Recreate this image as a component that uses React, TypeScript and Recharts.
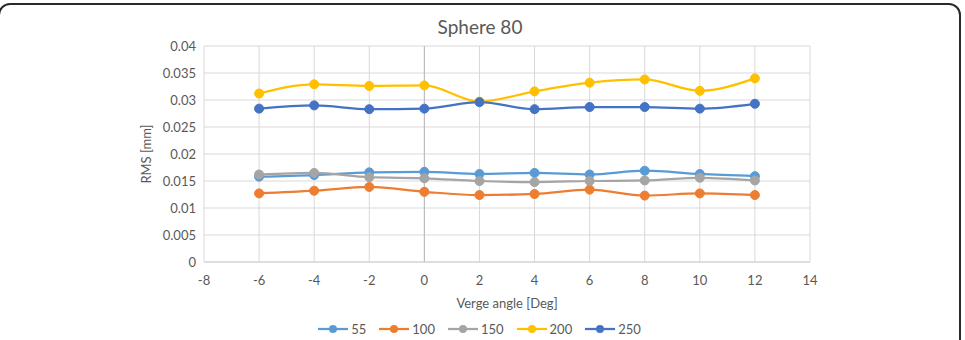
import React from 'react';
import { LineChart, Line, XAxis, YAxis, CartesianGrid, Legend, ReferenceLine } from 'recharts';

// Verge angle positions (deg) at which RMS was measured
const angles = [-6, -4, -2, 0, 2, 4, 6, 8, 10, 12];

// RMS error [mm] per series
const rms55 = [0.0158, 0.0161, 0.0166, 0.0167, 0.0163, 0.0165, 0.0162, 0.0169, 0.0163, 0.0159];
const rms100 = [0.0127, 0.0132, 0.0139, 0.013, 0.0124, 0.0126, 0.0134, 0.0123, 0.0127, 0.0124];
const rms150 = [0.0162, 0.0165, 0.0157, 0.0155, 0.015, 0.0148, 0.015, 0.0151, 0.0156, 0.0151];
const rms200 = [0.0312, 0.0329, 0.0326, 0.0327, 0.0297, 0.0316, 0.0332, 0.0338, 0.0317, 0.034];
const rms250 = [0.0284, 0.029, 0.0283, 0.0284, 0.0296, 0.0283, 0.0287, 0.0287, 0.0284, 0.0293];

const xTicks = [-8, -6, -4, -2, 0, 2, 4, 6, 8, 10, 12, 14];
const yTicks = [0, 0.005, 0.01, 0.015, 0.02, 0.025, 0.03, 0.035, 0.04];

const seriesNames = ['55', '100', '150', '200', '250'];
const seriesValues = [rms55, rms100, rms150, rms200, rms250];
const seriesColors = ['#5B9BD5', '#ED7D31', '#A5A5A5', '#FFC000', '#4472C4'];

const rows = angles.map((a, i) => {
  const row: Record<string, number> = { angle: a };
  seriesNames.forEach((n, k) => {
    row['s' + n] = seriesValues[k][i];
  });
  return row;
});

const FONT = 'Lato, "Open Sans", sans-serif';
const TEXT = '#595959';

// Legend entries kept in series order (55, 100, 150, 200, 250)
const LegendContent = (props: any) => {
  const items = [...((props && props.payload) || [])].sort(
    (a: any, b: any) => seriesNames.indexOf(String(a.value)) - seriesNames.indexOf(String(b.value))
  );
  return (
    <div
      style={{
        display: 'flex',
        justifyContent: 'center',
        alignItems: 'center',
        height: 20,
        fontFamily: FONT,
        fontSize: 13,
        color: TEXT,
        paddingRight: 6,
      }}
    >
      {items.map((it: any, i: number) => (
        <div key={it.value} style={{ display: 'flex', alignItems: 'center', marginLeft: i === 0 ? 0 : 13 }}>
          <svg width={30} height={10} style={{ display: 'block' }}>
            <line x1={0} y1={5} x2={30} y2={5} stroke={it.color} strokeWidth={2.25} />
            <circle cx={15} cy={5} r={4} fill={it.color} />
          </svg>
          <span style={{ marginLeft: 3 }}>{it.value}</span>
        </div>
      ))}
    </div>
  );
};

export default function App() {
  return (
    <div
      style={{
        position: 'absolute',
        left: 0,
        top: 0,
        width: 965,
        height: 340,
        overflow: 'hidden',
        background: '#ffffff',
      }}
    >
      <div
        style={{
          position: 'absolute',
          left: -2,
          top: 3,
          width: 963,
          height: 380,
          border: '2px solid #2a2a2a',
          borderRadius: 12,
          boxSizing: 'border-box',
        }}
      />
      <div
        style={{
          position: 'absolute',
          left: 0,
          width: 960,
          top: 15,
          textAlign: 'center',
          fontFamily: FONT,
          fontSize: 19,
          color: TEXT,
          lineHeight: '24px',
        }}
      >
        Sphere 80
      </div>
      <LineChart
        width={965}
        height={340}
        data={rows}
        margin={{ top: 46, right: 155, bottom: 8, left: 96 }}
        style={{ position: 'absolute', left: 0, top: 0 }}
      >
        <CartesianGrid stroke="#d9d9d9" strokeWidth={1} />
        <XAxis
          dataKey="angle"
          type="number"
          domain={[-8, 14]}
          ticks={xTicks}
          interval={0}
          height={50}
          axisLine={{ stroke: '#d0d0d0' }}
          tickLine={false}
          tickMargin={8}
          tick={{ fill: TEXT, fontSize: 13, fontFamily: FONT }}
          label={{
            value: 'Verge angle [Deg]',
            position: 'insideBottom',
            offset: 4,
            fill: TEXT,
            fontSize: 13,
            fontFamily: FONT,
          }}
        />
        <YAxis
          type="number"
          domain={[0, 0.04]}
          ticks={yTicks}
          interval={0}
          width={108}
          axisLine={false}
          tickLine={false}
          tick={{ fill: TEXT, fontSize: 13, fontFamily: FONT }}
          label={{
            value: 'RMS [mm]',
            angle: -90,
            position: 'center',
            dx: -4,
            fill: TEXT,
            fontSize: 13,
            fontFamily: FONT,
          }}
        />
        <ReferenceLine x={0} stroke="#b8b8b8" strokeWidth={1} />
        {seriesNames.map((n, k) => (
          <Line
            key={n}
            name={n}
            dataKey={'s' + n}
            type="monotone"
            stroke={seriesColors[k]}
            strokeWidth={2.25}
            dot={{ r: 4.5, fill: seriesColors[k], stroke: seriesColors[k], strokeWidth: 1 }}
            activeDot={false}
            isAnimationActive={false}
          />
        ))}
        <Legend
          verticalAlign="bottom"
          content={<LegendContent />}
          wrapperStyle={{ top: 319, bottom: 'auto', left: 0, width: 965 }}
        />
      </LineChart>
    </div>
  );
}
